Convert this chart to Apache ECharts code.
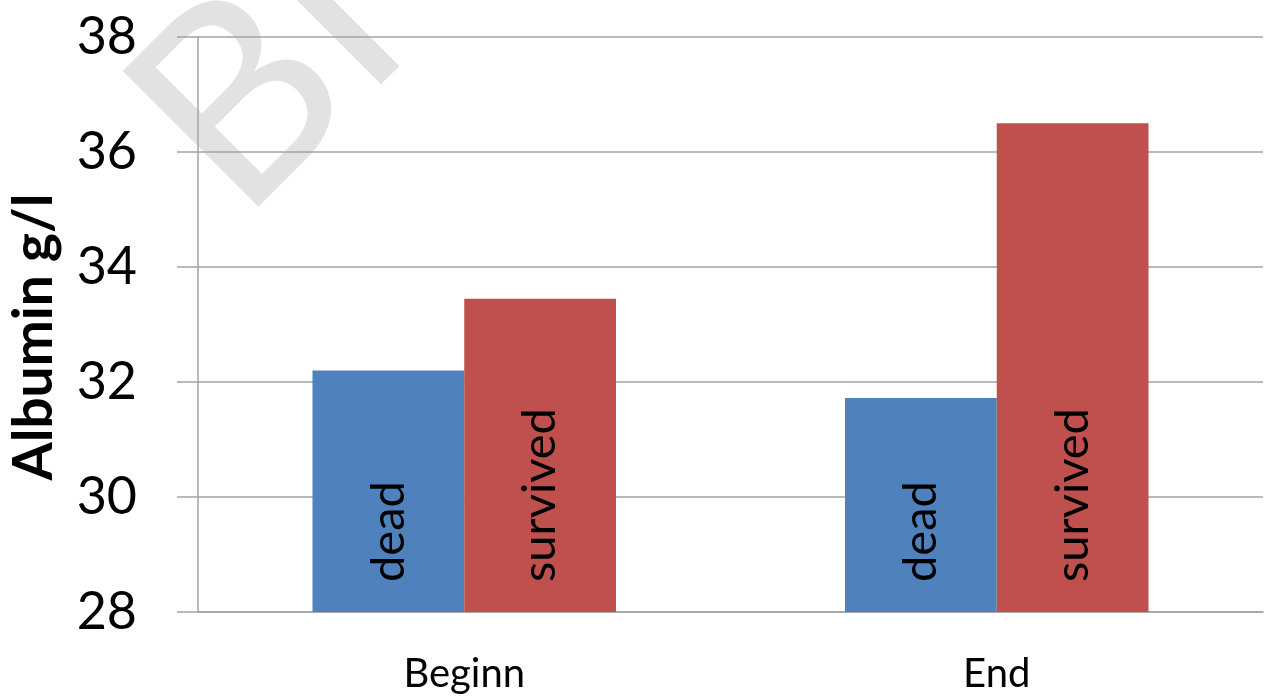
<!DOCTYPE html>
<html>
<head>
<meta charset="utf-8">
<title>Albumin g/l</title>
<script src="https://cdn.jsdelivr.net/npm/echarts@6/dist/echarts.min.js"></script>
<style>
  html, body { margin: 0; padding: 0; background: #ffffff; }
  #chart { width: 1265px; height: 697px; }
</style>
</head>
<body>
<div id="chart"></div>
<script>
// Time points and group means of serum albumin
const categories = ['Beginn', 'End'];
const deadValues = [32.2, 31.72];
const survivedValues = [33.45, 36.5];
const yTicks = { min: 28, max: 38, interval: 2 };

const FONT = 'Lato, "Open Sans", sans-serif';
const LINE = '#a3a3a3';

const chart = echarts.init(document.getElementById('chart'), null, { renderer: 'canvas' });

const barLabel = {
  show: true,
  position: 'insideBottom',
  rotate: 90,
  align: 'left',
  verticalAlign: 'middle',
  distance: 30,
  formatter: '{a}',
  fontFamily: FONT,
  fontSize: 47,
  color: '#000000'
};

chart.setOption({
  animation: false,
  backgroundColor: '#ffffff',
  graphic: [{
    type: 'text',
    x: 180,
    y: 163,
    rotation: Math.PI / 4,
    z: -10,
    silent: true,
    style: {
      text: 'BI',
      fontFamily: FONT,
      fontSize: 268,
      fill: '#e2e2e2',
      align: 'left',
      verticalAlign: 'middle'
    }
  }],
  grid: {
    left: 198, right: 2, top: 37, bottom: 85,
    containLabel: false,
    outerBoundsMode: 'none'
  },
  xAxis: {
    type: 'category',
    data: categories,
    axisLine: { show: true, lineStyle: { color: LINE, width: 1.5 } },
    axisTick: { show: false },
    axisLabel: { fontFamily: FONT, fontSize: 40, color: '#000000', margin: 42 }
  },
  yAxis: {
    type: 'value',
    min: yTicks.min,
    max: yTicks.max,
    interval: yTicks.interval,
    name: 'Albumin g/l',
    nameLocation: 'middle',
    nameRotate: 90,
    nameGap: 136,
    nameTextStyle: {
      fontFamily: FONT, fontSize: 55, fontWeight: 'bold', color: '#000000',
      padding: [0, 25, 0, 0]
    },
    axisLine: { show: true, lineStyle: { color: LINE, width: 1.5 } },
    axisTick: { show: true, length: 21, lineStyle: { color: LINE, width: 1.5 } },
    splitLine: { show: true, lineStyle: { color: LINE, width: 1.5 } },
    axisLabel: { fontFamily: FONT, fontSize: 52, color: '#000000', margin: 61 }
  },
  series: [
    {
      name: 'dead',
      type: 'bar',
      data: deadValues,
      barWidth: '28.5%',
      barGap: '0%',
      itemStyle: { color: '#4f81bd' },
      label: barLabel
    },
    {
      name: 'survived',
      type: 'bar',
      data: survivedValues,
      barWidth: '28.5%',
      barGap: '0%',
      itemStyle: { color: '#c0504d' },
      label: barLabel
    }
  ]
});
</script>
</body>
</html>
